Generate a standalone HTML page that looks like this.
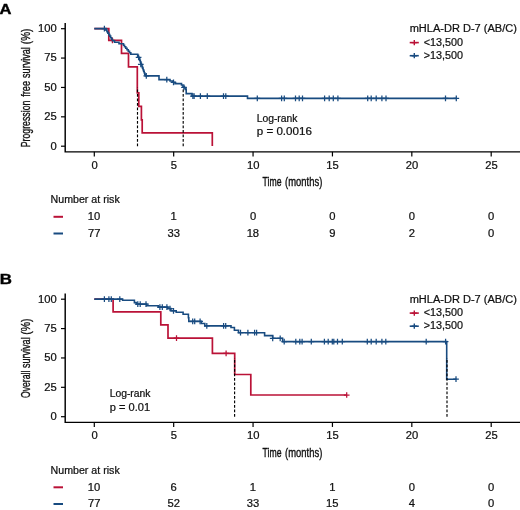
<!DOCTYPE html><html><head><meta charset="utf-8"><style>html,body{margin:0;padding:0;background:#fff;}svg{display:block;will-change:transform;}text{font-family:"Liberation Sans",sans-serif;stroke:#111;stroke-width:0.22px;}</style></head><body>
<svg width="520" height="510" viewBox="0 0 520 510">
<rect width="520" height="510" fill="#fff"/>
<text x="-0.43" y="13.50" font-size="15.3" font-weight="bold" textLength="11.97" lengthAdjust="spacingAndGlyphs" fill="#000" style="stroke:#000;stroke-width:0.4px">A</text>
<path d="M65.2 22.90 V151.85 H520" fill="none" stroke="#000" stroke-width="1.45"/>
<path d="M61 146.20 H65" stroke="#000" stroke-width="1.2"/>
<text x="50.43" y="149.60" font-size="10" textLength="6.23" lengthAdjust="spacingAndGlyphs" fill="#111">0</text>
<path d="M61 116.82 H65" stroke="#000" stroke-width="1.2"/>
<text x="44.22" y="120.22" font-size="10" textLength="12.46" lengthAdjust="spacingAndGlyphs" fill="#111">25</text>
<path d="M61 87.45 H65" stroke="#000" stroke-width="1.2"/>
<text x="44.22" y="90.85" font-size="10" textLength="12.46" lengthAdjust="spacingAndGlyphs" fill="#111">50</text>
<path d="M61 58.07 H65" stroke="#000" stroke-width="1.2"/>
<text x="44.22" y="61.47" font-size="10" textLength="12.46" lengthAdjust="spacingAndGlyphs" fill="#111">75</text>
<path d="M61 28.70 H65" stroke="#000" stroke-width="1.2"/>
<text x="38.00" y="32.10" font-size="10" textLength="18.69" lengthAdjust="spacingAndGlyphs" fill="#111">100</text>
<path d="M94.30 151.85 V156.45" stroke="#000" stroke-width="1.2"/>
<text x="91.49" y="168.70" font-size="10" textLength="6.23" lengthAdjust="spacingAndGlyphs" fill="#111">0</text>
<path d="M173.68 151.85 V156.45" stroke="#000" stroke-width="1.2"/>
<text x="170.87" y="168.70" font-size="10" textLength="6.23" lengthAdjust="spacingAndGlyphs" fill="#111">5</text>
<path d="M253.06 151.85 V156.45" stroke="#000" stroke-width="1.2"/>
<text x="246.95" y="168.70" font-size="10" textLength="12.46" lengthAdjust="spacingAndGlyphs" fill="#111">10</text>
<path d="M332.44 151.85 V156.45" stroke="#000" stroke-width="1.2"/>
<text x="326.33" y="168.70" font-size="10" textLength="12.46" lengthAdjust="spacingAndGlyphs" fill="#111">15</text>
<path d="M411.82 151.85 V156.45" stroke="#000" stroke-width="1.2"/>
<text x="405.85" y="168.70" font-size="10" textLength="12.46" lengthAdjust="spacingAndGlyphs" fill="#111">20</text>
<path d="M491.20 151.85 V156.45" stroke="#000" stroke-width="1.2"/>
<text x="485.23" y="168.70" font-size="10" textLength="12.46" lengthAdjust="spacingAndGlyphs" fill="#111">25</text>
<text x="262.59" y="186.40" font-size="12.5" textLength="18.90" lengthAdjust="spacingAndGlyphs" fill="#111" style="stroke-width:0.38px">Time</text>
<text x="285.10" y="186.40" font-size="12.5" textLength="37.18" lengthAdjust="spacingAndGlyphs" fill="#111" style="stroke-width:0.38px">(months)</text>
<text transform="translate(29.60 0) rotate(-90)" x="-147.26" y="0" font-size="13" textLength="46.65" lengthAdjust="spacingAndGlyphs" fill="#111" style="stroke-width:0.35px">Progression</text>
<text transform="translate(29.60 0) rotate(-90)" x="-96.69" y="0" font-size="13" textLength="15.66" lengthAdjust="spacingAndGlyphs" fill="#111" style="stroke-width:0.35px">free</text>
<text transform="translate(29.60 0) rotate(-90)" x="-77.89" y="0" font-size="13" textLength="30.54" lengthAdjust="spacingAndGlyphs" fill="#111" style="stroke-width:0.35px">survival</text>
<text transform="translate(29.60 0) rotate(-90)" x="-44.16" y="0" font-size="13" textLength="15.47" lengthAdjust="spacingAndGlyphs" fill="#111" style="stroke-width:0.35px">(%)</text>
<text x="409.68" y="32.40" font-size="10" textLength="107.21" lengthAdjust="spacingAndGlyphs" fill="#111">mHLA-DR D-7 (AB/C)</text>
<text x="423.76" y="45.80" font-size="10" textLength="39.30" lengthAdjust="spacingAndGlyphs" fill="#111">&lt;13,500</text>
<text x="423.76" y="58.90" font-size="10" textLength="39.30" lengthAdjust="spacingAndGlyphs" fill="#111">&gt;13,500</text>
<path d="M409.7 42.60 H418.8" stroke="#ba1237" stroke-width="1.6"/>
<path d="M411.70 42.60 h5.20 M414.30 40.00 v5.20" stroke="#ba1237" stroke-width="1.4" fill="none"/>
<path d="M409.7 55.70 H418.8" stroke="#184b80" stroke-width="1.6"/>
<path d="M411.70 55.70 h5.20 M414.30 53.10 v5.20" stroke="#184b80" stroke-width="1.4" fill="none"/>
<path d="M94.30 28.60 H108.80 V40.40 H121.50 V53.40 H128.50 V66.90 H137.30 V80.10 H137.30 V92.80 H138.80 V106.40 H141.40 V119.80 H142.20 V132.90 H212.30 V146.00" fill="none" stroke="#ba1237" stroke-width="1.7"/>
<path d="M109.55 40.40 h5.70 M112.40 37.55 v5.70" stroke="#ba1237" stroke-width="1.25" fill="none"/>
<path d="M94.30 28.60 H106.00 V30.11 H106.93 V31.62 H107.86 V33.14 H108.79 V34.65 H109.71 V36.16 H110.64 V37.68 H111.57 V39.19 H112.50 V40.70 H114.50 V42.20 H119.00 V43.70 H123.50 V45.20 H124.50 V46.70 H125.76 V48.20 H127.02 V49.70 H128.28 V51.20 H129.54 V52.70 H130.80 V54.20 H137.70 V55.75 H137.90 V57.30 H139.20 V58.85 H139.75 V60.40 H140.31 V61.95 H140.86 V63.50 H141.42 V65.05 H141.97 V66.60 H142.53 V68.15 H143.08 V69.70 H143.64 V71.25 H144.19 V72.80 H144.75 V74.35 H145.30 V75.90 H159.00 V79.60 H170.00 V80.93 H172.50 V82.27 H175.00 V83.60 H181.50 V85.05 H182.93 V86.50 H184.37 V87.95 H185.80 V89.40 H186.20 V93.60 H192.00 V96.10 H247.50 V98.40 H456.30 V98.40" fill="none" stroke="#184b80" stroke-width="1.6"/>
<path d="M101.55 28.60 h5.70 M104.40 25.75 v5.70" stroke="#184b80" stroke-width="1.25" fill="none"/>
<path d="M135.75 57.30 h5.70 M138.60 54.45 v5.70" stroke="#184b80" stroke-width="1.25" fill="none"/>
<path d="M137.95 64.40 h5.70 M140.80 61.55 v5.70" stroke="#184b80" stroke-width="1.25" fill="none"/>
<path d="M143.45 75.90 h5.70 M146.30 73.05 v5.70" stroke="#184b80" stroke-width="1.25" fill="none"/>
<path d="M163.95 79.60 h5.70 M166.80 76.75 v5.70" stroke="#184b80" stroke-width="1.25" fill="none"/>
<path d="M170.65 82.30 h5.70 M173.50 79.45 v5.70" stroke="#184b80" stroke-width="1.25" fill="none"/>
<path d="M181.15 87.40 h5.70 M184.00 84.55 v5.70" stroke="#184b80" stroke-width="1.25" fill="none"/>
<path d="M190.05 96.10 h5.70 M192.90 93.25 v5.70" stroke="#184b80" stroke-width="1.25" fill="none"/>
<path d="M191.25 96.10 h5.70 M194.10 93.25 v5.70" stroke="#184b80" stroke-width="1.25" fill="none"/>
<path d="M197.55 96.10 h5.70 M200.40 93.25 v5.70" stroke="#184b80" stroke-width="1.25" fill="none"/>
<path d="M204.45 96.10 h5.70 M207.30 93.25 v5.70" stroke="#184b80" stroke-width="1.25" fill="none"/>
<path d="M220.65 96.10 h5.70 M223.50 93.25 v5.70" stroke="#184b80" stroke-width="1.25" fill="none"/>
<path d="M222.95 96.10 h5.70 M225.80 93.25 v5.70" stroke="#184b80" stroke-width="1.25" fill="none"/>
<path d="M254.45 98.40 h5.70 M257.30 95.55 v5.70" stroke="#184b80" stroke-width="1.25" fill="none"/>
<path d="M278.75 98.40 h5.70 M281.60 95.55 v5.70" stroke="#184b80" stroke-width="1.25" fill="none"/>
<path d="M281.45 98.40 h5.70 M284.30 95.55 v5.70" stroke="#184b80" stroke-width="1.25" fill="none"/>
<path d="M292.65 98.40 h5.70 M295.50 95.55 v5.70" stroke="#184b80" stroke-width="1.25" fill="none"/>
<path d="M296.35 98.40 h5.70 M299.20 95.55 v5.70" stroke="#184b80" stroke-width="1.25" fill="none"/>
<path d="M299.65 98.40 h5.70 M302.50 95.55 v5.70" stroke="#184b80" stroke-width="1.25" fill="none"/>
<path d="M321.75 98.40 h5.70 M324.60 95.55 v5.70" stroke="#184b80" stroke-width="1.25" fill="none"/>
<path d="M326.35 98.40 h5.70 M329.20 95.55 v5.70" stroke="#184b80" stroke-width="1.25" fill="none"/>
<path d="M330.45 98.40 h5.70 M333.30 95.55 v5.70" stroke="#184b80" stroke-width="1.25" fill="none"/>
<path d="M335.05 98.40 h5.70 M337.90 95.55 v5.70" stroke="#184b80" stroke-width="1.25" fill="none"/>
<path d="M364.85 98.40 h5.70 M367.70 95.55 v5.70" stroke="#184b80" stroke-width="1.25" fill="none"/>
<path d="M368.35 98.40 h5.70 M371.20 95.55 v5.70" stroke="#184b80" stroke-width="1.25" fill="none"/>
<path d="M373.35 98.40 h5.70 M376.20 95.55 v5.70" stroke="#184b80" stroke-width="1.25" fill="none"/>
<path d="M379.05 98.40 h5.70 M381.90 95.55 v5.70" stroke="#184b80" stroke-width="1.25" fill="none"/>
<path d="M383.15 98.40 h5.70 M386.00 95.55 v5.70" stroke="#184b80" stroke-width="1.25" fill="none"/>
<path d="M442.65 98.40 h5.70 M445.50 95.55 v5.70" stroke="#184b80" stroke-width="1.25" fill="none"/>
<path d="M453.45 98.40 h5.70 M456.30 95.55 v5.70" stroke="#184b80" stroke-width="1.25" fill="none"/>
<path d="M137.50 146.20 V87.50" stroke="#000" stroke-width="1.15" stroke-dasharray="2.6 1.9"/>
<path d="M183.20 146.20 V88.50" stroke="#000" stroke-width="1.15" stroke-dasharray="2.6 1.9"/>
<text x="256.67" y="121.80" font-size="10" textLength="40.85" lengthAdjust="spacingAndGlyphs" fill="#111">Log-rank</text>
<text x="256.75" y="135.40" font-size="10" textLength="55.07" lengthAdjust="spacingAndGlyphs" fill="#111">p = 0.0016</text>
<text x="50.55" y="203.40" font-size="10" textLength="69.17" lengthAdjust="spacingAndGlyphs" fill="#111">Number at risk</text>
<path d="M53.5 216.80 H63" stroke="#ba1237" stroke-width="2"/>
<path d="M53.5 233.50 H63" stroke="#184b80" stroke-width="2"/>
<text x="87.89" y="220.20" font-size="10" textLength="12.46" lengthAdjust="spacingAndGlyphs" fill="#111">10</text>
<text x="88.08" y="236.80" font-size="10" textLength="12.46" lengthAdjust="spacingAndGlyphs" fill="#111">77</text>
<text x="170.43" y="220.20" font-size="10" textLength="6.23" lengthAdjust="spacingAndGlyphs" fill="#111">1</text>
<text x="167.49" y="236.80" font-size="10" textLength="12.46" lengthAdjust="spacingAndGlyphs" fill="#111">33</text>
<text x="249.95" y="220.20" font-size="10" textLength="6.23" lengthAdjust="spacingAndGlyphs" fill="#111">0</text>
<text x="246.65" y="236.80" font-size="10" textLength="12.46" lengthAdjust="spacingAndGlyphs" fill="#111">18</text>
<text x="329.33" y="220.20" font-size="10" textLength="6.23" lengthAdjust="spacingAndGlyphs" fill="#111">0</text>
<text x="329.33" y="236.80" font-size="10" textLength="6.23" lengthAdjust="spacingAndGlyphs" fill="#111">9</text>
<text x="408.71" y="220.20" font-size="10" textLength="6.23" lengthAdjust="spacingAndGlyphs" fill="#111">0</text>
<text x="408.71" y="236.80" font-size="10" textLength="6.23" lengthAdjust="spacingAndGlyphs" fill="#111">2</text>
<text x="488.09" y="220.20" font-size="10" textLength="6.23" lengthAdjust="spacingAndGlyphs" fill="#111">0</text>
<text x="488.09" y="236.80" font-size="10" textLength="6.23" lengthAdjust="spacingAndGlyphs" fill="#111">0</text>
<text x="-0.20" y="284.20" font-size="15.3" font-weight="bold" textLength="12.17" lengthAdjust="spacingAndGlyphs" fill="#000" style="stroke:#000;stroke-width:0.4px">B</text>
<path d="M65.2 293.40 V422.35 H520" fill="none" stroke="#000" stroke-width="1.45"/>
<path d="M61 416.70 H65" stroke="#000" stroke-width="1.2"/>
<text x="50.43" y="420.10" font-size="10" textLength="6.23" lengthAdjust="spacingAndGlyphs" fill="#111">0</text>
<path d="M61 387.32 H65" stroke="#000" stroke-width="1.2"/>
<text x="44.22" y="390.72" font-size="10" textLength="12.46" lengthAdjust="spacingAndGlyphs" fill="#111">25</text>
<path d="M61 357.95 H65" stroke="#000" stroke-width="1.2"/>
<text x="44.22" y="361.35" font-size="10" textLength="12.46" lengthAdjust="spacingAndGlyphs" fill="#111">50</text>
<path d="M61 328.57 H65" stroke="#000" stroke-width="1.2"/>
<text x="44.22" y="331.97" font-size="10" textLength="12.46" lengthAdjust="spacingAndGlyphs" fill="#111">75</text>
<path d="M61 299.20 H65" stroke="#000" stroke-width="1.2"/>
<text x="38.00" y="302.60" font-size="10" textLength="18.69" lengthAdjust="spacingAndGlyphs" fill="#111">100</text>
<path d="M94.30 422.35 V426.95" stroke="#000" stroke-width="1.2"/>
<text x="91.49" y="439.20" font-size="10" textLength="6.23" lengthAdjust="spacingAndGlyphs" fill="#111">0</text>
<path d="M173.68 422.35 V426.95" stroke="#000" stroke-width="1.2"/>
<text x="170.87" y="439.20" font-size="10" textLength="6.23" lengthAdjust="spacingAndGlyphs" fill="#111">5</text>
<path d="M253.06 422.35 V426.95" stroke="#000" stroke-width="1.2"/>
<text x="246.95" y="439.20" font-size="10" textLength="12.46" lengthAdjust="spacingAndGlyphs" fill="#111">10</text>
<path d="M332.44 422.35 V426.95" stroke="#000" stroke-width="1.2"/>
<text x="326.33" y="439.20" font-size="10" textLength="12.46" lengthAdjust="spacingAndGlyphs" fill="#111">15</text>
<path d="M411.82 422.35 V426.95" stroke="#000" stroke-width="1.2"/>
<text x="405.85" y="439.20" font-size="10" textLength="12.46" lengthAdjust="spacingAndGlyphs" fill="#111">20</text>
<path d="M491.20 422.35 V426.95" stroke="#000" stroke-width="1.2"/>
<text x="485.23" y="439.20" font-size="10" textLength="12.46" lengthAdjust="spacingAndGlyphs" fill="#111">25</text>
<text x="262.59" y="456.90" font-size="12.5" textLength="18.90" lengthAdjust="spacingAndGlyphs" fill="#111" style="stroke-width:0.38px">Time</text>
<text x="285.10" y="456.90" font-size="12.5" textLength="37.18" lengthAdjust="spacingAndGlyphs" fill="#111" style="stroke-width:0.38px">(months)</text>
<text transform="translate(29.60 0) rotate(-90)" x="-398.05" y="0" font-size="13" textLength="27.38" lengthAdjust="spacingAndGlyphs" fill="#111" style="stroke-width:0.35px">Overall</text>
<text transform="translate(29.60 0) rotate(-90)" x="-368.09" y="0" font-size="13" textLength="30.75" lengthAdjust="spacingAndGlyphs" fill="#111" style="stroke-width:0.35px">survival</text>
<text transform="translate(29.60 0) rotate(-90)" x="-334.70" y="0" font-size="13" textLength="16.30" lengthAdjust="spacingAndGlyphs" fill="#111" style="stroke-width:0.35px">(%)</text>
<text x="409.68" y="302.90" font-size="10" textLength="107.21" lengthAdjust="spacingAndGlyphs" fill="#111">mHLA-DR D-7 (AB/C)</text>
<text x="423.76" y="316.30" font-size="10" textLength="39.30" lengthAdjust="spacingAndGlyphs" fill="#111">&lt;13,500</text>
<text x="423.76" y="329.40" font-size="10" textLength="39.30" lengthAdjust="spacingAndGlyphs" fill="#111">&gt;13,500</text>
<path d="M409.7 313.10 H418.8" stroke="#ba1237" stroke-width="1.6"/>
<path d="M411.70 313.10 h5.20 M414.30 310.50 v5.20" stroke="#ba1237" stroke-width="1.4" fill="none"/>
<path d="M409.7 326.20 H418.8" stroke="#184b80" stroke-width="1.6"/>
<path d="M411.70 326.20 h5.20 M414.30 323.60 v5.20" stroke="#184b80" stroke-width="1.4" fill="none"/>
<path d="M94.30 299.10 H113.10 V311.80 H160.80 V324.90 H168.00 V338.20 H212.40 V353.30 H234.70 V374.50 H250.80 V395.00 H346.70 V395.00" fill="none" stroke="#ba1237" stroke-width="1.7"/>
<path d="M173.65 338.20 h5.70 M176.50 335.35 v5.70" stroke="#ba1237" stroke-width="1.25" fill="none"/>
<path d="M223.25 353.30 h5.70 M226.10 350.45 v5.70" stroke="#ba1237" stroke-width="1.25" fill="none"/>
<path d="M343.85 395.00 h5.70 M346.70 392.15 v5.70" stroke="#ba1237" stroke-width="1.25" fill="none"/>
<path d="M94.30 299.10 H122.60 V300.30 H134.40 V302.60 H136.60 V304.10 H146.80 V305.80 H158.40 V307.10 H167.80 V308.50 H170.90 V310.80 H176.20 V312.30 H183.10 V314.20 H188.40 V317.80 H188.80 V321.40 H201.40 V323.50 H204.80 V325.90 H231.00 V327.50 H234.40 V330.20 H238.50 V332.70 H264.60 V335.60 H272.70 V338.30 H282.60 V341.60 H446.70 V379.20 H456.30 V379.20" fill="none" stroke="#184b80" stroke-width="1.6"/>
<path d="M101.55 299.10 h5.70 M104.40 296.25 v5.70" stroke="#184b80" stroke-width="1.25" fill="none"/>
<path d="M106.05 299.10 h5.70 M108.90 296.25 v5.70" stroke="#184b80" stroke-width="1.25" fill="none"/>
<path d="M108.45 299.10 h5.70 M111.30 296.25 v5.70" stroke="#184b80" stroke-width="1.25" fill="none"/>
<path d="M116.95 299.10 h5.70 M119.80 296.25 v5.70" stroke="#184b80" stroke-width="1.25" fill="none"/>
<path d="M134.95 304.10 h5.70 M137.80 301.25 v5.70" stroke="#184b80" stroke-width="1.25" fill="none"/>
<path d="M137.35 304.10 h5.70 M140.20 301.25 v5.70" stroke="#184b80" stroke-width="1.25" fill="none"/>
<path d="M143.15 304.10 h5.70 M146.00 301.25 v5.70" stroke="#184b80" stroke-width="1.25" fill="none"/>
<path d="M157.05 307.10 h5.70 M159.90 304.25 v5.70" stroke="#184b80" stroke-width="1.25" fill="none"/>
<path d="M159.45 307.10 h5.70 M162.30 304.25 v5.70" stroke="#184b80" stroke-width="1.25" fill="none"/>
<path d="M164.05 307.10 h5.70 M166.90 304.25 v5.70" stroke="#184b80" stroke-width="1.25" fill="none"/>
<path d="M167.15 308.50 h5.70 M170.00 305.65 v5.70" stroke="#184b80" stroke-width="1.25" fill="none"/>
<path d="M170.65 310.80 h5.70 M173.50 307.95 v5.70" stroke="#184b80" stroke-width="1.25" fill="none"/>
<path d="M189.85 321.40 h5.70 M192.70 318.55 v5.70" stroke="#184b80" stroke-width="1.25" fill="none"/>
<path d="M191.85 321.40 h5.70 M194.70 318.55 v5.70" stroke="#184b80" stroke-width="1.25" fill="none"/>
<path d="M197.25 321.40 h5.70 M200.10 318.55 v5.70" stroke="#184b80" stroke-width="1.25" fill="none"/>
<path d="M203.95 325.90 h5.70 M206.80 323.05 v5.70" stroke="#184b80" stroke-width="1.25" fill="none"/>
<path d="M220.75 325.90 h5.70 M223.60 323.05 v5.70" stroke="#184b80" stroke-width="1.25" fill="none"/>
<path d="M222.85 325.90 h5.70 M225.70 323.05 v5.70" stroke="#184b80" stroke-width="1.25" fill="none"/>
<path d="M237.65 332.70 h5.70 M240.50 329.85 v5.70" stroke="#184b80" stroke-width="1.25" fill="none"/>
<path d="M245.05 332.70 h5.70 M247.90 329.85 v5.70" stroke="#184b80" stroke-width="1.25" fill="none"/>
<path d="M251.75 332.70 h5.70 M254.60 329.85 v5.70" stroke="#184b80" stroke-width="1.25" fill="none"/>
<path d="M253.75 332.70 h5.70 M256.60 329.85 v5.70" stroke="#184b80" stroke-width="1.25" fill="none"/>
<path d="M269.85 338.30 h5.70 M272.70 335.45 v5.70" stroke="#184b80" stroke-width="1.25" fill="none"/>
<path d="M277.35 338.30 h5.70 M280.20 335.45 v5.70" stroke="#184b80" stroke-width="1.25" fill="none"/>
<path d="M281.35 341.60 h5.70 M284.20 338.75 v5.70" stroke="#184b80" stroke-width="1.25" fill="none"/>
<path d="M292.95 341.60 h5.70 M295.80 338.75 v5.70" stroke="#184b80" stroke-width="1.25" fill="none"/>
<path d="M296.95 341.60 h5.70 M299.80 338.75 v5.70" stroke="#184b80" stroke-width="1.25" fill="none"/>
<path d="M299.25 341.60 h5.70 M302.10 338.75 v5.70" stroke="#184b80" stroke-width="1.25" fill="none"/>
<path d="M308.45 341.60 h5.70 M311.30 338.75 v5.70" stroke="#184b80" stroke-width="1.25" fill="none"/>
<path d="M321.55 341.60 h5.70 M324.40 338.75 v5.70" stroke="#184b80" stroke-width="1.25" fill="none"/>
<path d="M325.35 341.60 h5.70 M328.20 338.75 v5.70" stroke="#184b80" stroke-width="1.25" fill="none"/>
<path d="M329.45 341.60 h5.70 M332.30 338.75 v5.70" stroke="#184b80" stroke-width="1.25" fill="none"/>
<path d="M330.95 341.60 h5.70 M333.80 338.75 v5.70" stroke="#184b80" stroke-width="1.25" fill="none"/>
<path d="M334.65 341.60 h5.70 M337.50 338.75 v5.70" stroke="#184b80" stroke-width="1.25" fill="none"/>
<path d="M339.45 341.60 h5.70 M342.30 338.75 v5.70" stroke="#184b80" stroke-width="1.25" fill="none"/>
<path d="M364.45 341.60 h5.70 M367.30 338.75 v5.70" stroke="#184b80" stroke-width="1.25" fill="none"/>
<path d="M368.35 341.60 h5.70 M371.20 338.75 v5.70" stroke="#184b80" stroke-width="1.25" fill="none"/>
<path d="M373.35 341.60 h5.70 M376.20 338.75 v5.70" stroke="#184b80" stroke-width="1.25" fill="none"/>
<path d="M379.05 341.60 h5.70 M381.90 338.75 v5.70" stroke="#184b80" stroke-width="1.25" fill="none"/>
<path d="M382.95 341.60 h5.70 M385.80 338.75 v5.70" stroke="#184b80" stroke-width="1.25" fill="none"/>
<path d="M423.35 341.60 h5.70 M426.20 338.75 v5.70" stroke="#184b80" stroke-width="1.25" fill="none"/>
<path d="M442.75 341.60 h5.70 M445.60 338.75 v5.70" stroke="#184b80" stroke-width="1.25" fill="none"/>
<path d="M453.15 379.20 h5.70 M456.00 376.35 v5.70" stroke="#184b80" stroke-width="1.25" fill="none"/>
<path d="M234.60 416.70 V358.00" stroke="#000" stroke-width="1.15" stroke-dasharray="2.6 1.9"/>
<path d="M447.00 416.70 V358.00" stroke="#000" stroke-width="1.15" stroke-dasharray="2.6 1.9"/>
<text x="109.67" y="397.20" font-size="10" textLength="40.85" lengthAdjust="spacingAndGlyphs" fill="#111">Log-rank</text>
<text x="109.78" y="410.80" font-size="10" textLength="40.30" lengthAdjust="spacingAndGlyphs" fill="#111">p = 0.01</text>
<text x="50.55" y="473.90" font-size="10" textLength="69.17" lengthAdjust="spacingAndGlyphs" fill="#111">Number at risk</text>
<path d="M53.5 487.30 H63" stroke="#ba1237" stroke-width="2"/>
<path d="M53.5 504.00 H63" stroke="#184b80" stroke-width="2"/>
<text x="87.89" y="490.70" font-size="10" textLength="12.46" lengthAdjust="spacingAndGlyphs" fill="#111">10</text>
<text x="88.08" y="507.30" font-size="10" textLength="12.46" lengthAdjust="spacingAndGlyphs" fill="#111">77</text>
<text x="170.54" y="490.70" font-size="10" textLength="6.23" lengthAdjust="spacingAndGlyphs" fill="#111">6</text>
<text x="167.52" y="507.30" font-size="10" textLength="12.46" lengthAdjust="spacingAndGlyphs" fill="#111">52</text>
<text x="249.81" y="490.70" font-size="10" textLength="6.23" lengthAdjust="spacingAndGlyphs" fill="#111">1</text>
<text x="246.87" y="507.30" font-size="10" textLength="12.46" lengthAdjust="spacingAndGlyphs" fill="#111">33</text>
<text x="329.19" y="490.70" font-size="10" textLength="6.23" lengthAdjust="spacingAndGlyphs" fill="#111">1</text>
<text x="326.03" y="507.30" font-size="10" textLength="12.46" lengthAdjust="spacingAndGlyphs" fill="#111">15</text>
<text x="408.71" y="490.70" font-size="10" textLength="6.23" lengthAdjust="spacingAndGlyphs" fill="#111">0</text>
<text x="408.74" y="507.30" font-size="10" textLength="6.23" lengthAdjust="spacingAndGlyphs" fill="#111">4</text>
<text x="488.09" y="490.70" font-size="10" textLength="6.23" lengthAdjust="spacingAndGlyphs" fill="#111">0</text>
<text x="488.09" y="507.30" font-size="10" textLength="6.23" lengthAdjust="spacingAndGlyphs" fill="#111">0</text>
</svg></body></html>
